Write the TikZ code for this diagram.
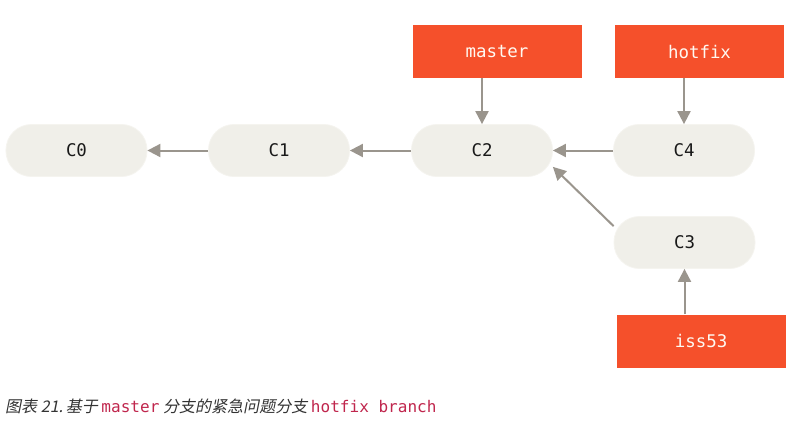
\documentclass[tikz,border=0pt]{standalone}
\usepackage{fontspec}
\setmonofont{DejaVu Sans Mono}
\newfontfamily\cjk[FakeSlant=0.2]{Noto Sans CJK SC}
\usetikzlibrary{arrows.meta,calc}
\definecolor{gitred}{HTML}{F5502B}
\definecolor{pillfill}{HTML}{F0EFE9}
\definecolor{pilledge}{HTML}{F5F4EF}
\definecolor{arrgray}{HTML}{9A958D}
\definecolor{captext}{HTML}{333333}
\definecolor{codered}{HTML}{C0264D}
\tikzset{
  commit/.style={rectangle, rounded corners=25.5bp, fill=pillfill, draw=pilledge, line width=0.8bp,
    minimum width=141bp, minimum height=52bp, inner sep=0pt,
    font=\fontsize{17.5}{20}\selectfont\ttfamily, text=black!90},
  branchbox/.style={rectangle, fill=gitred, draw=none, minimum width=169bp, minimum height=53bp,
    inner sep=0pt, font=\fontsize{17.5}{20}\selectfont\ttfamily, text=white!95!orange},
  arr/.style={draw=arrgray, line width=2bp, -{Triangle[length=13bp,width=13bp]}},
}
\begin{document}
\begin{tikzpicture}[x=1bp,y=-1bp]
\useasboundingbox[fill=white] (0,0) rectangle (790,424);
\node[commit] (C0) at (76.5,150.5) {C0};
\node[commit] (C1) at (279,150.5) {C1};
\node[commit] (C2) at (482,150.5) {C2};
\node[commit] (C4) at (684,150.5) {C4};
\node[commit] (C3) at (684.5,242.5) {C3};
\node[branchbox] (master) at (497,51.5) {master};
\node[branchbox] (hotfix) at (699.5,51.5) {hotfix};
\node[branchbox] (iss53) at (701,341) {iss53};
\draw[arr] (C1) -- (C0);
\draw[arr] (C2) -- (C1);
\draw[arr] (C4) -- (C2);
\draw[arr] (C3.167) -- (C2.-13);
\draw[arr] (master.south -| C2) -- (C2.north);
\draw[arr] (hotfix.south -| C4) -- (C4.north);
\draw[arr] (iss53.north -| C3) -- (C3.south);
\node[anchor=base west, inner sep=0pt, text=captext, font=\fontsize{16.1}{19}\selectfont] (cap) at (5,412)
  {\cjk 图表 21.\,基于 {\ttfamily\upshape\color{codered}master} 分支的紧急问题分支 {\ttfamily\color{codered}hotfix branch}};
\end{tikzpicture}
\end{document}
